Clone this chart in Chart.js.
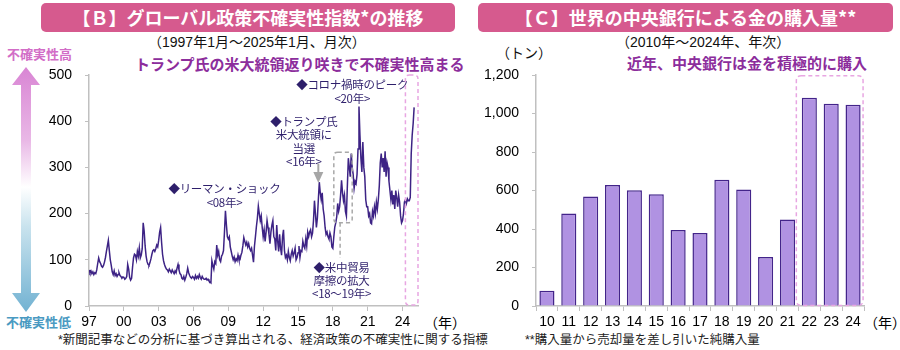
<!DOCTYPE html>
<html lang="ja">
<head>
<meta charset="utf-8">
<script src="https://cdn.jsdelivr.net/npm/chart.js@4.4.1/dist/chart.umd.min.js"></script>
<style>
body{margin:0;width:900px;height:350px;background:#fff;position:relative;overflow:hidden;font-family:"Liberation Sans","Noto Sans CJK JP",sans-serif;}
.abs{position:absolute;white-space:nowrap;}
.banner{position:absolute;top:3px;height:29px;background:#d65a8e;border-radius:5px;color:#fff;font-weight:bold;font-size:18px;line-height:29px;text-align:center;font-family:"Noto Sans CJK JP",sans-serif;}
.sub{font-size:14px;line-height:16px;color:#111;}
.lead{font-size:15px;line-height:18px;color:#8c2d9c;font-weight:bold;font-family:"Noto Sans CJK JP",sans-serif;}
.note{font-size:12.5px;line-height:14px;color:#222;}
.ax{font-size:14px;line-height:16px;color:#000;}
canvas{position:absolute;top:0;}
</style>
</head>
<body>
<div class="banner" style="left:41px;width:414px;">【Ｂ】グローバル政策不確実性指数*の推移</div>
<div class="banner" style="left:478px;width:415px;">【Ｃ】世界の中央銀行による金の購入量**</div>

<div class="abs sub" style="left:148px;top:34px;">（1997年1月～2025年1月、月次）</div>
<div class="abs sub" style="left:616px;top:34px;">（2010年～2024年、年次）</div>
<div class="abs lead" style="left:135px;top:55px;">トランプ氏の米大統領返り咲きで不確実性高まる</div>
<div class="abs lead" style="left:627px;top:54px;">近年、中央銀行は金を積極的に購入</div>
<div class="abs sub" style="left:496px;top:45px;">（トン）</div>

<div class="abs" style="left:7px;top:46px;font-size:13px;line-height:16px;font-weight:bold;color:#d26dc7;font-family:'Noto Sans CJK JP',sans-serif;">不確実性高</div>
<div class="abs" style="left:6px;top:314px;font-size:13px;line-height:16px;font-weight:bold;color:#4a9ac2;font-family:'Noto Sans CJK JP',sans-serif;">不確実性低</div>
<svg class="abs" style="left:0;top:0;" width="50" height="350">
  <defs>
    <linearGradient id="g" x1="0" y1="67" x2="0" y2="312" gradientUnits="userSpaceOnUse">
      <stop offset="0" stop-color="#d985d4"/>
      <stop offset="0.3" stop-color="#e9b8e6"/>
      <stop offset="0.49" stop-color="#ffffff"/>
      <stop offset="0.65" stop-color="#c9e3ee"/>
      <stop offset="1" stop-color="#72b2d2"/>
    </linearGradient>
  </defs>
  <path d="M26 67 L40 85 L31 85 L31 293 L40 293 L26 312 L12 293 L21 293 L21 85 L12 85 Z" fill="url(#g)"/>
</svg>

<div class="abs ax" style="left:424px;top:315px;">（年）</div>
<div class="abs ax" style="left:864px;top:315px;">（年）</div>
<div class="abs note" style="left:58px;top:333px;">*新聞記事などの分析に基づき算出される、経済政策の不確実性に関する指標</div>
<div class="abs note" style="left:525px;top:333px;">**購入量から売却量を差し引いた純購入量</div>

<canvas id="epu" width="460" height="350" style="left:0;"></canvas>
<canvas id="gold" width="440" height="350" style="left:460px;"></canvas>

<script>
// global economic policy uncertainty index, monthly, 1997/01 - 2025/01
const uncertainty = [
  78, 72, 76, 70, 74, 68, 72, 70, 78, 92, 104, 96,        // 1997
  92, 86, 84, 88, 95, 105, 118, 130, 142, 120, 100, 88,   // 1998
  74, 68, 76, 66, 70, 64, 68, 72, 66, 64, 60, 63,         // 1999
  62, 58, 60, 64, 90, 80, 62, 56, 60, 84, 104, 112,       // 2000
  110, 100, 118, 108, 126, 104, 110, 124, 180, 162, 130, 108, // 2001
  96, 90, 88, 94, 102, 112, 120, 122, 118, 124, 132, 128, // 2002
  142, 160, 170, 138, 112, 98, 90, 84, 80, 78, 74, 80,    // 2003
  76, 72, 78, 74, 70, 76, 72, 82, 90, 78, 70, 68,         // 2004
  60, 58, 64, 56, 62, 70, 82, 72, 66, 62, 60, 64,         // 2005
  62, 58, 66, 60, 64, 60, 68, 62, 58, 64, 60, 58,         // 2006
  58, 60, 56, 58, 54, 52, 50, 98, 88, 80, 96, 92,         // 2007
  132, 110, 118, 100, 96, 108, 112, 120, 160, 206, 176, 150, // 2008
  145, 150, 128, 118, 108, 100, 106, 96, 102, 98, 110, 100, // 2009
  100, 110, 116, 130, 148, 140, 132, 138, 128, 135, 125, 120, // 2010
  125, 110, 95, 130, 150, 172, 190, 216, 200, 185, 195, 170, // 2011
  150, 165, 140, 160, 185, 170, 155, 135, 160, 175, 185, 150, // 2012
  145, 120, 175, 140, 118, 155, 125, 110, 150, 165, 120, 105, // 2013
  110, 100, 118, 105, 98, 112, 120, 108, 115, 125, 100, 105,  // 2014
  115, 130, 105, 120, 118, 140, 130, 125, 145, 130, 160, 150, // 2015
  160, 165, 150, 158, 185, 228, 200, 170, 190, 230, 268, 245, // 2016
  230, 245, 210, 195, 170, 155, 160, 150, 145, 158, 150, 128, // 2017
  125, 150, 171, 180, 193, 222, 205, 215, 240, 272, 245, 228, // 2018
  240, 205, 195, 260, 320, 300, 280, 330, 300, 285, 255, 270, // 2019
  265, 285, 340, 432, 370, 320, 290, 355, 300, 280, 230, 215, // 2020
  215, 195, 200, 180, 178, 205, 195, 215, 200, 225, 210, 230, // 2021
  260, 310, 330, 300, 320, 290, 335, 280, 310, 300, 270, 250, // 2022
  230, 250, 220, 240, 210, 250, 235, 215, 240, 225, 195, 180, // 2023
  185, 200, 225, 230, 222, 232, 228, 228, 235, 330, 370, 395, // 2024
  430                                                         // 2025/01
];
const yearTickLabels = ['97', '00', '03', '06', '09', '12', '15', '18', '21', '24'];

// central bank net gold purchases (tonnes)
const goldYears = ['10', '11', '12', '13', '14', '15', '16', '17', '18', '19', '20', '21', '22', '23', '24'];
const goldTonnes = [79, 481, 569, 629, 601, 580, 395, 379, 656, 605, 255, 450, 1082, 1051, 1045];

const tickFont = {family: 'Liberation Sans', size: 14};
const noteFont = '11.5px "Noto Sans CJK JP", sans-serif';
const noteColor = '#2e1f6b';

function roundBox(ctx, x1, y1, x2, y2, r){
    ctx.beginPath();
    ctx.moveTo(x1 + r, y1);
    ctx.lineTo(x2 - r, y1);
    ctx.quadraticCurveTo(x2, y1, x2, y1 + r);
    ctx.lineTo(x2, y2 - r);
    ctx.quadraticCurveTo(x2, y2, x2 - r, y2);
    ctx.lineTo(x1 + r, y2);
    ctx.quadraticCurveTo(x1, y2, x1, y2 - r);
    ctx.lineTo(x1, y1 + r);
    ctx.quadraticCurveTo(x1, y1, x1 + r, y1);
    ctx.stroke();
}

function textLines(ctx, lines, cx, top, step){
    lines.forEach((t, i) => ctx.fillText(t, cx, top + i * step));
}

const leftNotes = {
    id: 'leftNotes',
    afterDatasetsDraw(chart){
        const ctx = chart.ctx, x = chart.scales.x, y = chart.scales.y;
        ctx.save();
        ctx.font = noteFont;
        ctx.letterSpacing = '-0.3px';
        ctx.fillStyle = noteColor;
        ctx.textAlign = 'center';
        ctx.textBaseline = 'middle';
        textLines(ctx, ['◆リーマン・ショック', '<08年>'], x.getPixelForValue(140), y.getPixelForValue(255), 14);
        textLines(ctx, ['◆トランプ氏', '米大統領に', '当選', '<16年>'], x.getPixelForValue(222), y.getPixelForValue(400), 13.5);
        textLines(ctx, ['◆コロナ禍時のピーク', '<20年>'], x.getPixelForValue(272), y.getPixelForValue(480), 14);
        textLines(ctx, ['◆米中貿易', '摩擦の拡大', '<18～19年>'], x.getPixelForValue(261), y.getPixelForValue(84), 13);

        // gray arrow to the 2016 spike
        const ax = x.getPixelForValue(237);
        ctx.strokeStyle = '#a6a6a6';
        ctx.fillStyle = '#a6a6a6';
        ctx.lineWidth = 2;
        ctx.beginPath();
        ctx.moveTo(ax, y.getPixelForValue(308));
        ctx.lineTo(ax, y.getPixelForValue(285));
        ctx.stroke();
        ctx.beginPath();
        ctx.moveTo(ax - 5, y.getPixelForValue(290));
        ctx.lineTo(ax + 5, y.getPixelForValue(290));
        ctx.lineTo(ax, y.getPixelForValue(266));
        ctx.closePath();
        ctx.fill();

        // dashed boxes
        ctx.lineWidth = 1.5;
        ctx.setLineDash([4, 3]);
        ctx.strokeStyle = '#a8a8a8';
        roundBox(ctx, x.getPixelForValue(253), y.getPixelForValue(333), x.getPixelForValue(272), y.getPixelForValue(180), 4);
        const lx = x.getPixelForValue(259.5);
        ctx.beginPath();
        ctx.moveTo(lx, y.getPixelForValue(180));
        ctx.lineTo(lx, y.getPixelForValue(104));
        ctx.stroke();
        ctx.strokeStyle = '#e8a6e2';
        roundBox(ctx, x.getPixelForValue(327), y.getPixelForValue(500), x.getPixelForValue(340), y.getPixelForValue(2), 4);
        ctx.restore();
    }
};

const rightNotes = {
    id: 'rightNotes',
    afterDatasetsDraw(chart){
        const ctx = chart.ctx, x = chart.scales.x, y = chart.scales.y;
        ctx.save();
        ctx.lineWidth = 1.5;
        ctx.setLineDash([4, 3]);
        ctx.strokeStyle = '#e8a6e2';
        roundBox(ctx, x.getPixelForValue(12) - 13, y.getPixelForValue(1196), x.getPixelForValue(14) + 10, y.getPixelForValue(3), 5);
        ctx.restore();
    }
};

new Chart(document.getElementById('epu'), {
    type: 'line',
    data: {
        datasets: [{
            data: uncertainty.map((v, i) => ({x: i, y: v})),
            borderColor: '#3d2385',
            borderWidth: 1.5,
            pointRadius: 0,
            tension: 0,
            fill: false
        }]
    },
    options: {
        responsive: false,
        animation: false,
        layout: {padding: {top: 75, right: 42, bottom: 0, left: 0}},
        plugins: {legend: {display: false}, tooltip: {enabled: false}},
        scales: {
            x: {
                type: 'linear',
                min: 0,
                max: 340,
                afterBuildTicks: s => { s.ticks = yearTickLabels.map((t, i) => ({value: i * 36})); },
                afterFit: s => { s.height = 44; },
                ticks: {callback: (v, i) => yearTickLabels[i], font: tickFont, color: '#000', padding: 3, maxRotation: 0, autoSkip: false},
                grid: {drawOnChartArea: false, tickLength: 5, color: '#c0c0c0'},
                border: {color: '#c0c0c0', width: 1.5}
            },
            y: {
                min: 0,
                max: 500,
                afterFit: s => { s.width = 89; },
                ticks: {stepSize: 100, font: tickFont, color: '#000', padding: 13},
                grid: {drawOnChartArea: false, tickLength: 4, color: '#c0c0c0'},
                border: {color: '#c0c0c0', width: 1.5}
            }
        }
    },
    plugins: [leftNotes]
});

new Chart(document.getElementById('gold'), {
    type: 'bar',
    data: {
        labels: goldYears,
        datasets: [{
            data: goldTonnes,
            backgroundColor: '#b092e2',
            borderColor: '#43248a',
            borderWidth: 1.5,
            categoryPercentage: 1,
            barPercentage: 0.69
        }]
    },
    options: {
        responsive: false,
        animation: false,
        layout: {padding: {top: 75, right: 36, bottom: 0, left: 0}},
        plugins: {legend: {display: false}, tooltip: {enabled: false}},
        scales: {
            x: {
                afterFit: s => { s.height = 44; },
                ticks: {font: tickFont, color: '#000', padding: 3, maxRotation: 0, autoSkip: false},
                grid: {drawOnChartArea: false, tickLength: 5, color: '#c0c0c0'},
                border: {color: '#c0c0c0', width: 1.5}
            },
            y: {
                min: 0,
                max: 1200,
                afterFit: s => { s.width = 76; },
                ticks: {stepSize: 200, font: tickFont, color: '#000', padding: 13, callback: v => v.toLocaleString('en-US')},
                grid: {drawOnChartArea: false, tickLength: 4, color: '#c0c0c0'},
                border: {color: '#c0c0c0', width: 1.5}
            }
        }
    },
    plugins: [rightNotes]
});
</script>
</body>
</html>
